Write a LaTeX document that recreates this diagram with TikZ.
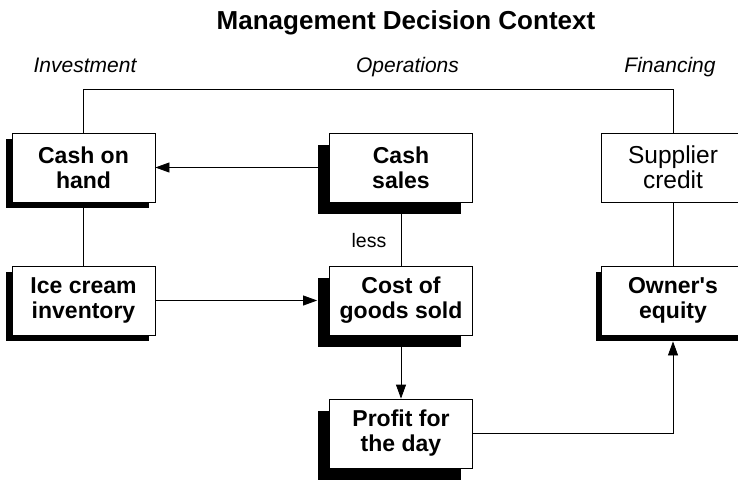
\documentclass[tikz,border=0pt]{standalone}
\usepackage{fontspec}
\setmainfont{Liberation Sans}
\usetikzlibrary{arrows.meta,shadows}

\begin{document}
\begin{tikzpicture}[x=1pt,y=-1pt]
  \tikzstyle{box}=[draw,fill=white,line width=0.8pt,minimum width=143pt,minimum height=69pt,inner sep=0pt,align=center,font=\bfseries\fontsize{23}{25}\selectfont]
  \tikzstyle{plainbox}=[box,font=\fontsize{24.5}{25}\selectfont]
  \tikzstyle{thinshadow}=[general shadow={fill=black,shadow xshift=-6pt,shadow yshift=-6pt}]
  \tikzstyle{thickshadow}=[general shadow={fill=black,shadow xshift=-12pt,shadow yshift=-12pt}]
  \tikzstyle{link}=[draw,line width=0.8pt]
  \tikzstyle{arrow}=[link,-{Triangle[length=14pt,width=10pt]}]
  \tikzstyle{heading}=[anchor=base,font=\itshape\fontsize{21}{24}\selectfont]

  \useasboundingbox (0,0) rectangle (738,480);

  \node[anchor=base,font=\bfseries\fontsize{26}{30}\selectfont] (title) at (406,29) {Management Decision Context};
  \node[heading] (invest) at (85,72) {Investment};
  \node[heading] (ops) at (407.5,72) {Operations};
  \node[heading] (fin) at (670,72) {Financing};

  \node[box,thinshadow] (cashhand) at (83.5,167.5) {Cash on\\hand};
  \node[box,thickshadow] (cashsales) at (401,167.5) {Cash\\sales};
  \node[plainbox] (supplier) at (673,167.5) {Supplier\\credit};

  \node[box,thinshadow] (icecream) at (83.5,300.5) {Ice cream\\inventory};
  \node[box,thickshadow] (cogs) at (401,300.5) {Cost of\\goods sold};
  \node[box,thinshadow] (owner) at (673,300.5) {Owner\textquotesingle s\\equity};

  \node[box,thickshadow] (profit) at (401,433.5) {Profit for\\the day};

  \coordinate (ctx) at (0,89);
  \path[link] (cashhand.north) |- (supplier.north |- ctx) -- (supplier.north);
  \path[link] (cashhand) -- (icecream);
  \path[link] (supplier) -- (owner);
  \path[link] (cashsales.south) -- node[pos=0.6,left=11pt,font=\fontsize{19.5}{23}\selectfont] {less} (cogs.north);

  \path[arrow] (cashsales.west) -- (cashhand.east);
  \path[arrow] (icecream.east) -- ([xshift=-12pt]cogs.west);
  \path[arrow] (cogs.south) -- (profit.north);
  \path[arrow] (profit.east) -| ([yshift=-6pt]owner.south);
\end{tikzpicture}
\end{document}
